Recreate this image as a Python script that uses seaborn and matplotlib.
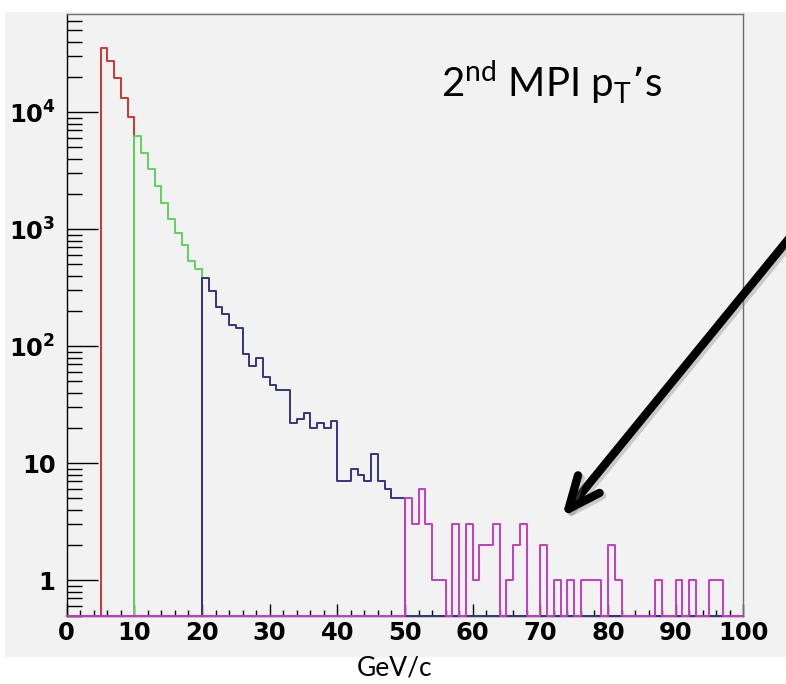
import numpy as np
import pandas as pd
import matplotlib
matplotlib.use("Agg")
import matplotlib.pyplot as plt
import matplotlib.patheffects as pe
from matplotlib.patches import Rectangle
from matplotlib.ticker import FixedLocator, FixedFormatter, MultipleLocator, LogLocator, NullFormatter
import seaborn as sns

# ---------------- data ----------------
BIN_EDGES = list(range(0, 101))

RED_START = 5
RED_COUNTS = [35400, 27300, 19600, 13300, 9100]

GREEN_START = 10
GREEN_COUNTS = [6240, 4440, 3240, 2340, 1690, 1220, 919, 730, 532, 455]

BLUE_START = 20
BLUE_COUNTS = [386, 295, 217, 190, 153, 142, 85, 68, 80, 55,
               47, 42, 42, 22, 24, 27, 20, 22, 20, 23,
               7, 7, 9, 8, 7, 12, 7, 6, 5, 5]

MAGENTA_START = 50
MAGENTA_COUNTS = [5, 3, 6, 3, 1, 1, 0, 3, 0, 3,
                  1, 2, 2, 3, 0, 1, 2, 3, 0, 0,
                  2, 0, 1, 0, 1, 0, 1, 1, 1, 0,
                  2, 1, 0, 0, 0, 0, 0, 1, 0, 0,
                  1, 0, 1, 0, 0, 1, 1, 0, 0, 0]

SERIES_COLORS = ["#cc3535", "#5ad65a", "#34347f", "#c43cc4"]

X_TICKS = [0, 10, 20, 30, 40, 50, 60, 70, 80, 90, 100]
X_TICK_LABELS = ["0", "10", "20", "30", "40", "50", "60", "70", "80", "90", "100"]
Y_TICKS = [1, 10, 100, 1000, 10000]
Y_TICK_LABELS = ["1", "10", r"$\mathregular{10^{2}}$", r"$\mathregular{10^{3}}$",
                 r"$\mathregular{10^{4}}$"]

TITLE = r"2$^{\mathregular{nd}}$ MPI p$_{\mathregular{T}}$’s"
XLABEL = "GeV/c"

YMIN, YMAX = 0.5, 6.9e4

# ---------------- figure ----------------
W, H = 786, 684
fig = plt.figure(figsize=(W / 100, H / 100), dpi=100, facecolor="white")
fig.patches.append(Rectangle((5 / W, 1 - 657 / H), (W - 5) / W, (657 - 12) / H,
                             transform=fig.transFigure, facecolor="#f2f2f2",
                             edgecolor="none", zorder=-10))

ax = fig.add_axes([66.7 / W, 1 - 615.5 / H, (743.3 - 66.7) / W, (615.5 - 14) / H])
ax.set_facecolor("#f2f2f2")

centers = np.array(BIN_EDGES[:-1]) + 0.5


def full(start, counts):
    arr = np.zeros(len(BIN_EDGES) - 1)
    arr[start:start + len(counts)] = counts
    # ROOT draws empty bins on the bottom of the frame
    return np.where(arr > 0, arr, YMIN)


series = [(RED_START, RED_COUNTS), (GREEN_START, GREEN_COUNTS),
          (BLUE_START, BLUE_COUNTS), (MAGENTA_START, MAGENTA_COUNTS)]
for i, ((start, counts), col) in enumerate(zip(series, SERIES_COLORS)):
    df = pd.DataFrame({"pt": centers, "n": full(start, counts)})
    sns.histplot(data=df, x="pt", weights="n", bins=BIN_EDGES, element="step",
                 fill=False, color=col, linewidth=1.4, ax=ax, zorder=3 + i,
                 clip_on=False)

ax.set_yscale("log")
ax.set_xlim(0, 100)
ax.set_ylim(YMIN, YMAX)
ax.set_xlabel("")
ax.set_ylabel("")

for s in ["left", "bottom"]:
    ax.spines[s].set_color("black")
    ax.spines[s].set_linewidth(1.0)
for s in ["top", "right"]:
    ax.spines[s].set_color("#6e6e6e")
    ax.spines[s].set_linewidth(1.0)

ax.xaxis.set_major_locator(FixedLocator(X_TICKS))
ax.xaxis.set_major_formatter(FixedFormatter(X_TICK_LABELS))
ax.xaxis.set_minor_locator(MultipleLocator(2))
ax.yaxis.set_major_locator(FixedLocator(Y_TICKS))
ax.yaxis.set_major_formatter(FixedFormatter(Y_TICK_LABELS))
ax.yaxis.set_minor_locator(LogLocator(base=10, subs=range(2, 10)))
ax.yaxis.set_minor_formatter(NullFormatter())

ax.tick_params(axis="x", which="major", direction="in", length=8.6, width=1.0,
               pad=4, labelsize=17.5, color="black")
ax.tick_params(axis="x", which="minor", direction="in", length=4.6, width=1.0,
               color="black")
ax.tick_params(axis="y", which="major", direction="in", length=22, width=1.0,
               pad=8, labelsize=17.5, color="black")
ax.tick_params(axis="y", which="minor", direction="in", length=11, width=1.0,
               color="black")
for lab in ax.get_xticklabels() + ax.get_yticklabels():
    lab.set_fontfamily("DejaVu Sans")
    lab.set_fontweight("bold")

fig.text(441 / W, 1 - 97 / H, TITLE, family="Lato", fontsize=29,
         ha="left", va="baseline", color="black")
fig.text(395 / W, 1 - 668 / H, XLABEL, family="Lato", fontsize=19,
         ha="center", va="center", color="black")

ax.annotate("", xy=(562, H - 517), xycoords="figure pixels",
            xytext=(800, H - 225), textcoords="figure pixels",
            arrowprops=dict(arrowstyle="->,head_length=2.3,head_width=1.0",
                            lw=6, color="black", capstyle="round",
                            joinstyle="round", shrinkA=0, shrinkB=0,
                            path_effects=[pe.SimpleLineShadow(offset=(2, -2),
                                                              shadow_color="gray",
                                                              alpha=0.35),
                                          pe.Normal()]),
            annotation_clip=False)

fig.savefig("out.png", dpi=100, facecolor=fig.get_facecolor())
